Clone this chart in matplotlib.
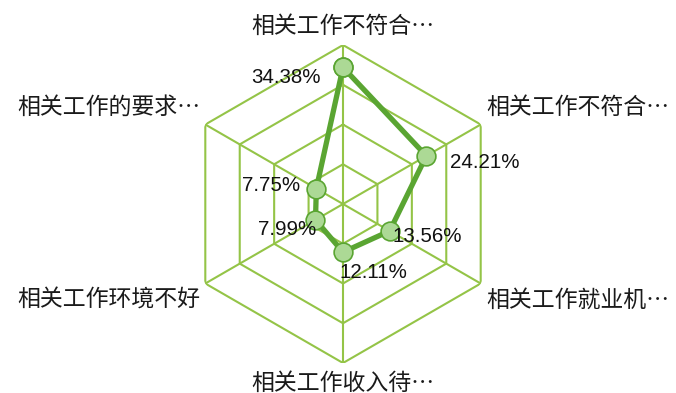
import numpy as np
import matplotlib
matplotlib.use("Agg")
import matplotlib.pyplot as plt

plt.rcParams['font.family'] = ['Noto Sans CJK SC', 'DejaVu Sans']

# clockwise from the top
categories = ['相关工作不符合…', '相关工作不符合…', '相关工作就业机…',
              '相关工作收入待…', '相关工作环境不好', '相关工作的要求…']
values = [34.38, 24.21, 13.56, 12.11, 7.99, 7.75]
ring_levels = [10, 20, 30, 40]

# value label offsets from each point, in pixels (x right, y up)
label_offsets = [(-57, -10), (58, -7), (38, -6), (30, -20), (-28, -10), (-45, 3)]
# category label offsets from each outer vertex, in pixels, plus alignment
cat_offsets = [(0, 19, 'center'), (6, 17, 'left'), (6, -17, 'left'),
               (0, -20, 'center'), (-5, -17, 'right'), (-5, 17, 'right')]

grid_color = '#94c447'
line_color = '#5aa532'
marker_face = '#acd995'

n = len(categories)
angles = np.arange(n) * 2 * np.pi / n
px = 72 / 100  # pixels -> points

fig = plt.figure(figsize=(6.76, 3.93), dpi=100)
ax = fig.add_axes([0.2722, 0.0763, 0.4704, 0.8092], projection='polar')
ax.set_theta_offset(np.pi / 2)
ax.set_theta_direction(-1)
ax.set_ylim(0, ring_levels[-1])
ax.grid(False)
ax.spines['polar'].set_visible(False)
ax.set_xticks([])
ax.set_yticks([])
ax.patch.set_alpha(0)

# hexagonal rings and spokes
closed = np.append(angles, angles[0])
for lvl in ring_levels:
    ax.plot(closed, [lvl] * (n + 1), color=grid_color, lw=1.5, zorder=1)
for a in angles:
    ax.plot([a, a], [0, ring_levels[-1]], color=grid_color, lw=1.5, zorder=1)

ax.plot(closed, values + values[:1], color=line_color, lw=3.8, zorder=3,
        marker='o', markersize=13.5, markerfacecolor=marker_face,
        markeredgecolor=line_color, markeredgewidth=1.2)

for a, v, (dx, dy) in zip(angles, values, label_offsets):
    ax.annotate(f'{v:.2f}%', xy=(a, v), xytext=(dx * px, dy * px),
                textcoords='offset points', ha='center', va='center',
                fontsize=14.8, family=['Liberation Sans', 'DejaVu Sans'],
                color='#111111', zorder=4)

for a, lab, (dx, dy, ha) in zip(angles, categories, cat_offsets):
    ax.annotate(lab, xy=(a, ring_levels[-1]), xytext=(dx * px, dy * px),
                textcoords='offset points', ha=ha, va='center',
                fontsize=16.5, color='#1a1a1a', annotation_clip=False)

fig.savefig('out.png', dpi=100)
